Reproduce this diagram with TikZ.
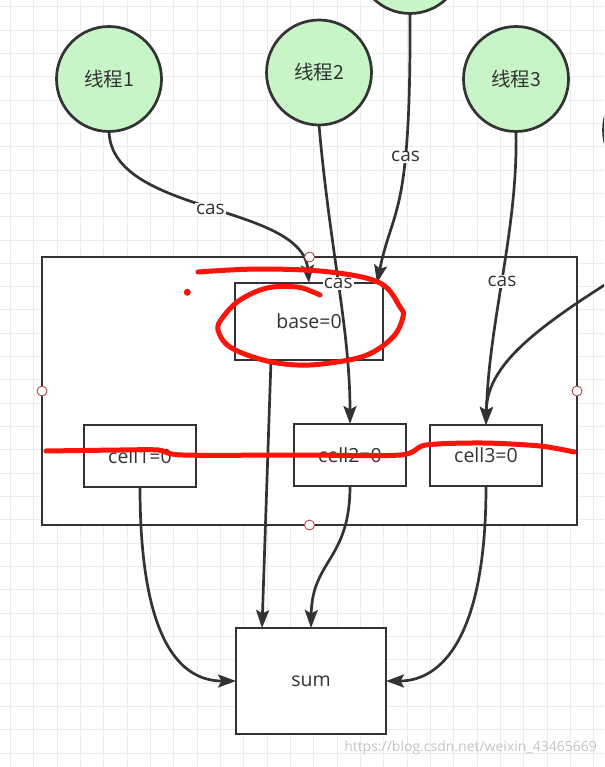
\documentclass[tikz,border=0pt]{standalone}
\usepackage{fontspec}
\setmainfont{Open Sans}
\newfontfamily\cjk{Noto Sans CJK SC}
\usetikzlibrary{arrows.meta,shapes.geometric}
\definecolor{ink}{HTML}{333333}
\definecolor{thread}{RGB}{200,245,200}
\definecolor{gridc}{HTML}{EBEBEB}
\definecolor{pen}{RGB}{250,20,10}
\definecolor{port}{HTML}{9E3A3A}
\definecolor{wm}{HTML}{C4C4C4}
\begin{document}
\begin{tikzpicture}[x=1pt,y=-1pt,
 box/.style={draw=ink,line width=2.7pt,fill=white,text=ink,font=\fontsize{19.5}{22}\selectfont,inner sep=0pt,outer sep=0pt},
 thr/.style={ellipse,draw=ink,line width=2.7pt,fill=thread,minimum width=105pt,minimum height=105pt,text=ink,font=\cjk\fontsize{19.5}{22}\selectfont,inner sep=0pt,outer sep=0pt},
 conn/.style={draw=ink,line width=2.7pt,-{Stealth[length=18pt,width=13pt,inset=3.5pt]}},
 lbl/.style={fill=white,text=ink,font=\fontsize{19}{22}\selectfont,inner sep=1pt},
 portpt/.style={circle,draw=port,fill=white,line width=0.8pt,minimum size=10pt,inner sep=0pt},
 scrib/.style={draw=pen,line width=5pt,line cap=round,line join=round}]
\clip (0,0) rectangle (604,767);
\fill[white] (0,0) rectangle (604,767);
\foreach \i in {0,...,25} \draw[gridc,line width=1pt] ({10.5+23.33*\i},0) -- ({10.5+23.33*\i},767);
\foreach \i in {0,...,32} \draw[gridc,line width=1pt] (0,{6.7+23.33*\i}) -- (604,{6.7+23.33*\i});

% container and boxes
\node[box,minimum width=535pt,minimum height=268pt] (outer) at (309.5,391) {};
\node[box,minimum width=148pt,minimum height=77pt] (base) at (309,321.5) {base=0};
\node[box,minimum width=112pt,minimum height=62pt] (cell1) at (140,456) {cell1=0};
\node[box,minimum width=112pt,minimum height=62pt] (cell2) at (350,455) {cell2=0};
\node[box,minimum width=112pt,minimum height=61pt] (cell3) at (486,455.5) {cell3=0};
\node[box,minimum width=150pt,minimum height=106pt] (sum) at (311,681) {\raisebox{-3pt}{sum}};

% threads
\node[thr] (t1) at (109,79) {线程1};
\node[thr] (t2) at (319,72.5) {线程2};
\node[thr] (t3) at (516,79) {线程3};
\node[thr] (t0) at (410,-39) {};
\node[thr] (t4) at (656,130) {};
\coordinate (ext) at (668,246);

% connectors
\draw[conn] (t1.south) .. controls (112,215) and (302,203) .. (base.north) node[lbl,pos=0.51]{cas};
\draw[conn] (t0.south) .. controls (411,220) and (393,205) .. ([xshift=-6pt]base.north east) node[lbl,pos=0.33]{cas};
\draw[conn] (t2.south) .. controls (330,250) and (350,330) .. (cell2.north) node[lbl,pos=0.49]{cas};
\draw[conn] (t3.south) .. controls (518,230) and (489,320) .. (cell3.north) node[lbl,pos=0.52]{cas};
\draw[conn] (ext) .. controls (545,320) and (487,360) .. (cell3.north);
\draw[conn] ([xshift=-38pt]base.south) -- ([xshift=-49pt]sum.north);
\draw[conn] (cell2.south) .. controls (350,560) and (312,560) .. (sum.north);
\draw[conn] (cell1.south) .. controls (140,640) and (180,681) .. (sum.west);
\draw[conn] (cell3.south) .. controls (486,640) and (440,681) .. (sum.east);

% ports
\foreach \a in {north,south,east,west} \node[portpt] at (outer.\a) {};

% red annotations
\draw[scrib] plot[smooth,tension=0.6] coordinates {(198,272) (260,269) (330,272) (380,283) (400,307) (403,317) (393,337) (367,355) (330,363) (297,365) (263,360) (230,347) (218,330) (223,317) (240,300) (267,288) (297,287) (313,292) (320,295)};
\fill[pen] (187.3,292.3) circle (3.5pt);
\draw[scrib] plot[smooth,tension=0.5] coordinates {(46,451) (120,450) (158,450) (183,455) (300,455) (400,455) (426,445) (483,443) (540,446) (574,452)};

% watermark
\node[anchor=east,text=wm,font=\fontsize{14}{16}\selectfont,inner sep=0pt] (wmk) at (597,748) {https://blog.csdn.net/weixin\_43465669};
\end{tikzpicture}
\end{document}
